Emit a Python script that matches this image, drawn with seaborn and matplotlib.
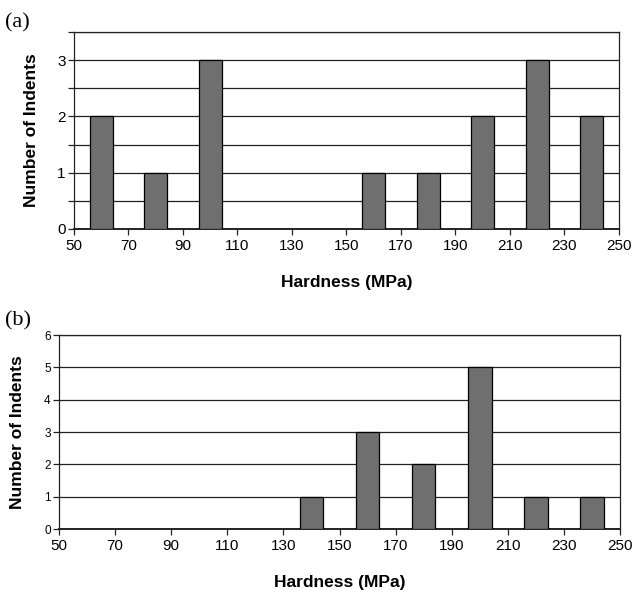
import numpy as np
import pandas as pd
import matplotlib
matplotlib.use("Agg")
import matplotlib.pyplot as plt
from matplotlib.ticker import MultipleLocator
import seaborn as sns

sns.set_theme(style="white")
plt.rcParams['font.family'] = ['Liberation Sans', 'DejaVu Sans']
plt.rcParams['text.color'] = 'black'
plt.rcParams['axes.labelcolor'] = 'black'
plt.rcParams['xtick.color'] = 'black'
plt.rcParams['ytick.color'] = 'black'

# Data
hardness_a = [60, 80, 100, 160, 180, 200, 220, 240]
counts_a = [2, 1, 3, 1, 1, 2, 3, 2]
hardness_b = [140, 160, 180, 200, 220, 240]
counts_b = [1, 3, 2, 5, 1, 1]
x_ticks = list(range(50, 251, 20))
panel_labels = ["(a)", "(b)"]
xlabel = "Hardness (MPa)"
ylabel = "Number of Indents"

fig = plt.figure(figsize=(6.34, 5.96), dpi=100)
ax_a = fig.add_axes([0.1167, 0.6158, 0.8596, 0.3305])
ax_b = fig.add_axes([0.0931, 0.1124, 0.8849, 0.3255])

bar_color = "#6f6f6f"
line_color = "#222222"

def draw(ax, xs, ys, ymax, ymajor, yminor, ytick_size, ylab_pad, xlab_pad):
    df = pd.DataFrame({"h": xs, "n": ys})
    ax.set_axisbelow(True)
    sns.barplot(data=df, x="h", y="n", native_scale=True, width=0.42,
                color=bar_color, edgecolor="black", linewidth=0.9,
                saturation=1, ax=ax, zorder=3)
    ax.set_xlim(50, 250)
    ax.set_ylim(0, ymax)
    ax.set_xticks(x_ticks)
    ax.yaxis.set_major_locator(MultipleLocator(ymajor))
    if yminor:
        ax.yaxis.set_minor_locator(MultipleLocator(yminor))
        ax.grid(True, axis="y", which="minor", color=line_color, linewidth=0.9)
    ax.grid(True, axis="y", which="major", color=line_color, linewidth=0.9)
    ax.grid(False, axis="x")
    for s in ax.spines.values():
        s.set_visible(True)
        s.set_color(line_color)
        s.set_linewidth(0.9)
    ax.spines["bottom"].set_linewidth(1.4)
    ax.tick_params(axis="x", which="both", direction="out", length=4, width=0.9,
                   color=line_color, labelsize=11, pad=3, bottom=True,
                   labelcolor="black")
    ax.tick_params(axis="y", which="major", direction="out", length=4, width=0.9,
                   color=line_color, labelsize=ytick_size, pad=2, left=True,
                   labelcolor="black")
    ax.tick_params(axis="y", which="minor", direction="out", length=4, width=0.9,
                   color=line_color, left=True)
    ax.set_xlabel(xlabel, fontsize=12.5, fontweight="bold", labelpad=xlab_pad,
                  color="black")
    ax.set_ylabel(ylabel, fontsize=12.5, fontweight="bold", labelpad=ylab_pad,
                  color="black")

draw(ax_a, hardness_a, counts_a, 3.5, 1, 0.5, 11, 13, 16)
draw(ax_b, hardness_b, counts_b, 6, 1, None, 8.5, 14, 16)

fig.text(0.008, 0.978, panel_labels[0], fontsize=16, family="Liberation Serif",
         va="top", color="black")
fig.text(0.008, 0.477, panel_labels[1], fontsize=16, family="Liberation Serif",
         va="top", color="black")

fig.savefig("out.png", dpi=100)
